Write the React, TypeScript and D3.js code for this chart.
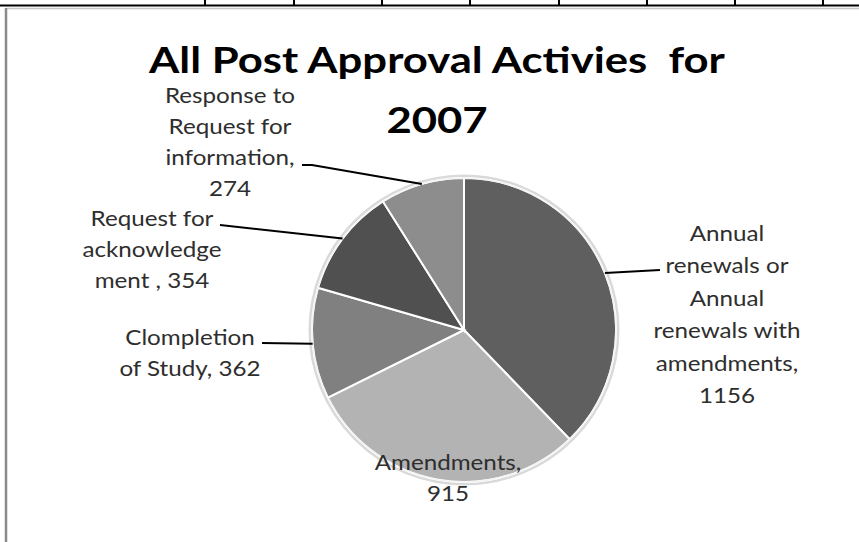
import React from 'react';
import * as d3 from 'd3';

// slice data, clockwise from 12 o'clock
const categories = [
  'Annual renewals or Annual renewals with amendments',
  'Amendments',
  'Clompletion of Study',
  'Request for acknowledgement',
  'Response to Request for information',
];
const values = [1156, 915, 362, 354, 274];
const labelLines = [
  ['Annual', 'renewals or', 'Annual', 'renewals with', 'amendments,', '1156'],
  ['Amendments,', '915'],
  ['Clompletion', 'of Study, 362'],
  ['Request for', 'acknowledge', 'ment , 354'],
  ['Response to', 'Request for', 'information,', '274'],
];
const titleLines = ['All Post Approval Activies  for', '2007'];
const tableCols = [205, 294, 382, 470, 559, 647, 735, 823];

const colors = ['#5f5f5f', '#b3b3b3', '#808080', '#505050', '#8d8d8d'];

// label layout (centre x, first baseline y, line step, leader end point)
const labelLayout = [
  { x: 727, y: 241, step: 32.4, lead: [660, 270], via: null },
  { x: 448, y: 470, step: 31, lead: null, via: null },
  { x: 190, y: 345, step: 31, lead: [262, 343], via: null },
  { x: 152, y: 226, step: 31, lead: [220, 225], via: null },
  { x: 230, y: 103, step: 31, lead: [302, 165], via: [312, 165] },
];

const W = 859;
const H = 542;
const cx = 464;
const cy = 330;
const R = 152;

export default function App() {
  const pie = d3.pie<number>().sort(null).value(d => d);
  const arcs = pie(values);
  const arc = d3.arc<d3.PieArcDatum<number>>().innerRadius(0).outerRadius(R);
  const font = 'Lato, "Open Sans", sans-serif';

  return (
    <svg width={W} height={H} style={{ position: 'absolute', left: 0, top: 0, display: 'block', background: '#fff' }}>
      {/* table edge at the top */}
      <line x1={0} x2={W} y1={5.5} y2={5.5} stroke="#000" strokeWidth={2} />
      {tableCols.map((x, i) => (
        <line key={i} x1={x} x2={x} y1={0} y2={5} stroke="#000" strokeWidth={2} />
      ))}
      {/* chart frame */}
      <line x1={6} x2={W} y1={8.5} y2={8.5} stroke="#c8c8c8" strokeWidth={1.5} />
      <line x1={6} x2={6} y1={8} y2={H} stroke="#8a8a8a" strokeWidth={2.5} />

      {titleLines.map((t, i) => (
        <g key={i} transform={`translate(437,0) scale(1.18,1)`}>
          <text x={0} y={i === 0 ? 73 : 133} textAnchor="middle"
            fontFamily={font} fontWeight="bold" fontSize={37} fill="#000" style={{ whiteSpace: 'pre' }}>
            {t}
          </text>
        </g>
      ))}

      <g transform={`translate(${cx},${cy})`}>
        <circle r={R + 2} fill="none" stroke="#d9d9d9" strokeWidth={3} />
        {arcs.map((a, i) => (
          <path key={categories[i]} d={arc(a) || ''} fill={colors[i]} stroke="#fff" strokeWidth={2} />
        ))}
        <circle r={R} fill="none" stroke="#f4f4f4" strokeWidth={1.5} />
      </g>

      {arcs.map((a, i) => {
        const L = labelLayout[i];
        if (!L.lead) return null;
        const mid = (a.startAngle + a.endAngle) / 2;
        const ex = cx + R * Math.sin(mid);
        const ey = cy - R * Math.cos(mid);
        const pts = [L.lead, ...(L.via ? [L.via] : []), [ex, ey]];
        return (
          <polyline key={i} points={pts.map(p => p.join(',')).join(' ')} fill="none" stroke="#000" strokeWidth={2} />
        );
      })}

      {labelLines.map((lines, i) => {
        const L = labelLayout[i];
        return (
          <g key={i} transform={`translate(${L.x},0) scale(1.1,1)`}>
            <text textAnchor="middle" fontFamily={font} fontSize={22} fill="#2e2e2e">
              {lines.map((s, j) => (
                <tspan key={j} x={0} y={L.y + j * L.step} style={{ whiteSpace: 'pre' }}>{s}</tspan>
              ))}
            </text>
          </g>
        );
      })}
    </svg>
  );
}
